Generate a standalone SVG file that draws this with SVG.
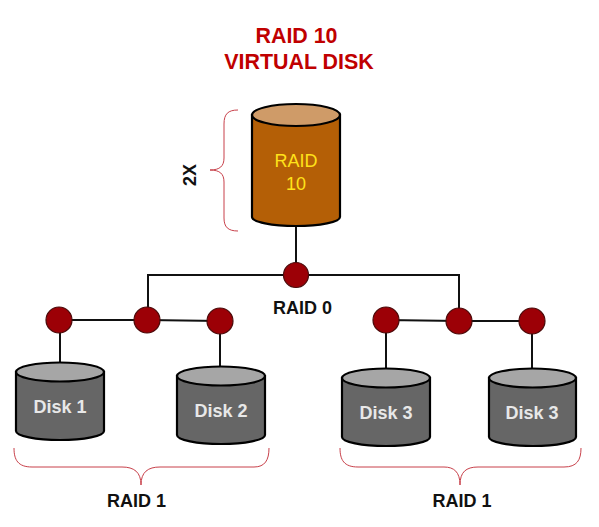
<svg xmlns="http://www.w3.org/2000/svg" width="599" height="527" viewBox="0 0 599 527">
<style>
text{font-family:"Liberation Sans",Arial,sans-serif;text-anchor:middle}
.t{font-size:21.4px;font-weight:bold;fill:#c00000}
.l{font-size:18px;font-weight:bold;fill:#111}
.d{font-size:18px;font-weight:bold;fill:#e8e8e8}
.r{font-size:18px;fill:#ffe21a}
.w{stroke:#111;stroke-width:2;fill:none}
.b{stroke:#c8404a;stroke-width:1;fill:none}
.n{fill:#9c0006;stroke:#4a0a0a;stroke-width:1.2}
.body{fill:#666;stroke:#000;stroke-width:2.2}
.lid{fill:#a6a6a6;stroke:#000;stroke-width:2.2}
</style>
<rect width="599" height="527" fill="#fff"/>
<text class="t" x="296.500" y="43">RAID 10</text>
<text class="t" x="299" y="69">VIRTUAL DISK</text>
<g id="connectors">
<path class="w" d="M296 226V275M148 308V275H459V321"/>
<path class="w" d="M59 320L147 320L220 321M60 320V362M220 321V367"/>
<path class="w" d="M386 320L459 321H532M386 320V369M532 321V369"/>
</g>
<g id="raid10">
<path d="M252 115V217C252 222 272 226 296 226S340 222 340 217V115Z" fill="#b45f06" stroke="#000" stroke-width="2.2"/>
<ellipse cx="296" cy="115" rx="44" ry="11" fill="#cf9b68" stroke="#000" stroke-width="2.2"/>
<text class="r" x="296" y="167">RAID</text>
<text class="r" x="296" y="190">10</text>
</g>
<g id="disk1">
<path class="body" d="M16 372V431C16 436 36 440 60 440S104 436 104 431V372Z"/>
<ellipse class="lid" cx="60" cy="372" rx="44" ry="9.5"/>
<text class="d" x="60" y="413">Disk 1</text>
</g>
<g id="disk2">
<path class="body" d="M177 376V435C177 440 197 444 221 444S265 440 265 435V376Z"/>
<ellipse class="lid" cx="221" cy="376" rx="44" ry="9.5"/>
<text class="d" x="221" y="417">Disk 2</text>
</g>
<g id="disk3a">
<path class="body" d="M342 378V437C342 442 362 446 386 446S430 442 430 437V378Z"/>
<ellipse class="lid" cx="386" cy="378" rx="44" ry="9.5"/>
<text class="d" x="386" y="419">Disk 3</text>
</g>
<g id="disk3b">
<path class="body" d="M489 378V437C489 442 509 446 533 446S576 442 576 437V378Z"/>
<ellipse class="lid" cx="532.500" cy="378" rx="43.500" ry="9.500"/>
<text class="d" x="532" y="419">Disk 3</text>
</g>
<g id="nodes">
<circle id="n0" class="n" cx="296" cy="275" r="12.500"/>
<circle id="n1" class="n" cx="59" cy="320" r="13"/>
<circle id="n2" class="n" cx="147" cy="320" r="13"/>
<circle id="n3" class="n" cx="220" cy="321" r="13"/>
<circle id="n4" class="n" cx="386" cy="320" r="13"/>
<circle id="n5" class="n" cx="459" cy="321" r="13"/>
<circle id="n6" class="n" cx="532" cy="321" r="13"/>
</g>
<g id="braces">
<path class="b" d="M238 110C228 110 224 114 224 124V158C224 166 220 170 210 170C220 170 224 174 224 182V218C224 227 228 231 238 231"/>
<path class="b" d="M14 448C14 460 18 467 32 467H122C134 467 141 472 141 485C141 472 148 467 160 467H254C265 467 269 460 269 448"/>
<path class="b" d="M340 448C340 460 344 467 358 467H444C454 467 460 472 460 485C460 472 466 467 478 467H564C577 467 581 460 581 448"/>
</g>
<text class="l" x="302.500" y="314">RAID 0</text>
<text class="l" x="136.500" y="507">RAID 1</text>
<text class="l" x="462" y="507">RAID 1</text>
<text class="l" transform="translate(196 175) rotate(-90)">2X</text>
</svg>
